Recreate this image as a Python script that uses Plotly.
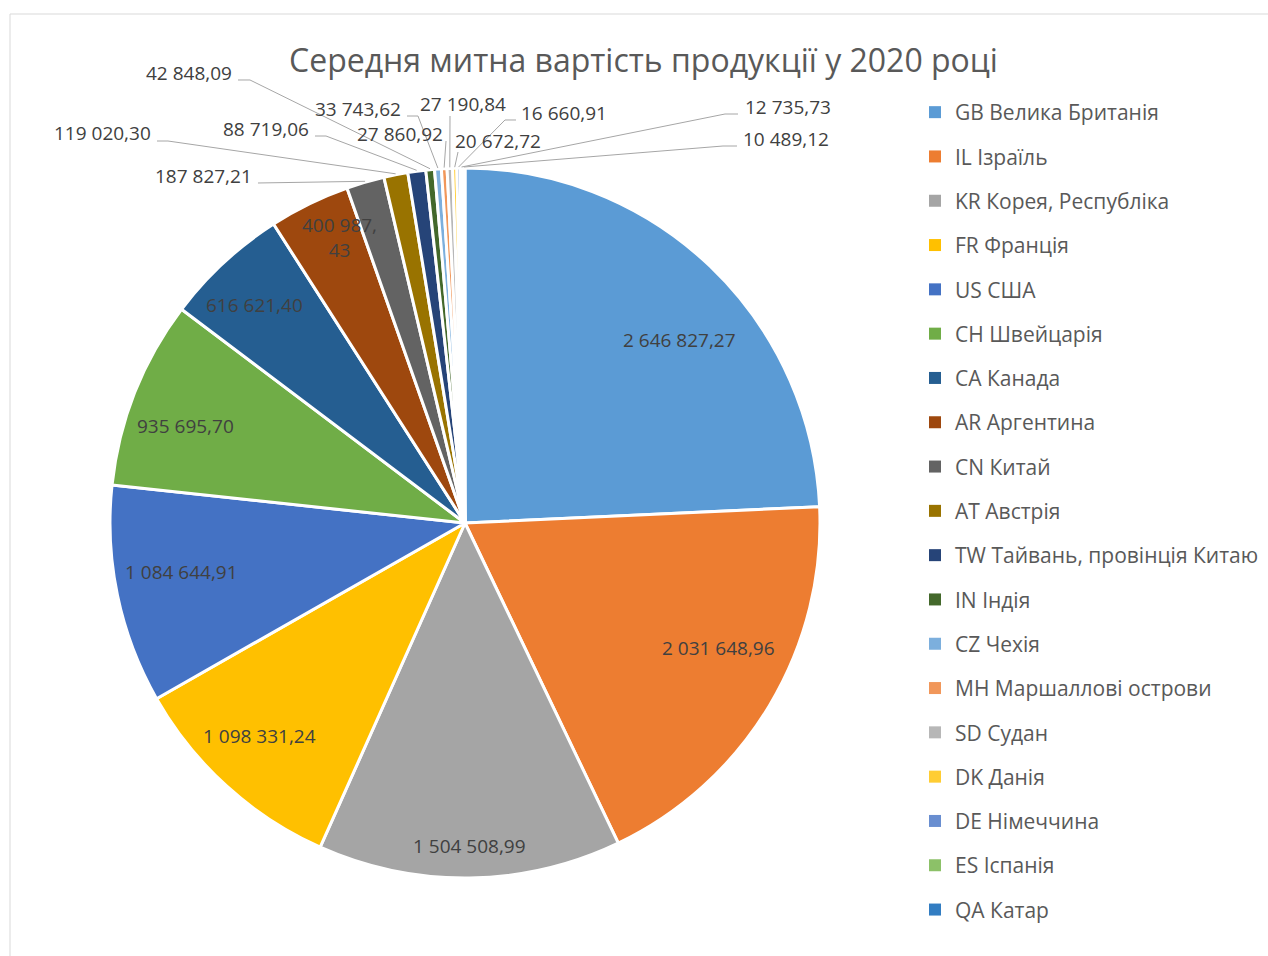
import numpy as np
import plotly.graph_objects as go

# ---- data -----------------------------------------------------------------
countries = [
    "GB Велика Британія", "IL Ізраїль", "KR Корея, Республіка", "FR Франція",
    "US США", "CH Швейцарія", "CA Канада", "AR Аргентина", "CN Китай",
    "AT Австрія", "TW Тайвань, провінція Китаю", "IN Індія", "CZ Чехія",
    "MH Маршаллові острови", "SD Судан", "DK Данія", "DE Німеччина",
    "ES Іспанія", "QA Катар",
]
values = [
    2646827.27, 2031648.96, 1504508.99, 1098331.24, 1084644.91, 935695.70,
    616621.40, 400987.43, 187827.21, 119020.30, 88719.06, 42848.09,
    33743.62, 27860.92, 27190.84, 20672.72, 16660.91, 12735.73, 10489.12,
]
colors = [
    "#5B9BD5", "#ED7D31", "#A5A5A5", "#FFC000", "#4472C4", "#70AD47",
    "#255E91", "#9E480E", "#636363", "#997300", "#264478", "#43682B",
    "#7CAFDD", "#F1975A", "#B7B7B7", "#FFCD33", "#698ED0", "#8CC168",
    "#327DC2",
]
title_text = "Середня митна вартість продукції у 2020 році"

# ---- page geometry (pixels) ----------------------------------------------
W, H = 1268, 956
CX, CY, R = 465, 523, 355
FONT = "Open Sans"
TEXT_GREY = "#595959"
LABEL_GREY = "#404040"
LEADER = "#A6A6A6"
LABEL_SIZE = 19

def px(x):
    return x / W

def py(y):
    return 1 - y / H

def fmt(v):
    whole, frac = f"{v:.2f}".split(".")
    groups = []
    while len(whole) > 3:
        groups.insert(0, whole[-3:])
        whole = whole[:-3]
    groups.insert(0, whole)
    return " ".join(groups) + "," + frac

vals = np.array(values)
cum = np.cumsum(vals) / vals.sum()
mid = (cum - vals / vals.sum() / 2) * 2 * np.pi   # clockwise from 12 o'clock

def polar(i, r, shift_deg=0.0):
    a = mid[i] + np.radians(shift_deg)
    return CX + r * np.sin(a), CY - r * np.cos(a)

fig = go.Figure()
fig.add_trace(go.Pie(
    labels=countries, values=values, sort=False, direction="clockwise",
    rotation=0, textinfo="none", hoverinfo="label+value",
    marker=dict(colors=colors, line=dict(color="white", width=3)),
    domain=dict(x=[px(CX - R), px(CX + R)], y=[py(CY + R), py(CY - R)]),
    showlegend=False,
))

# legend entries
for name, col in zip(countries, colors):
    fig.add_trace(go.Scatter(
        x=[None], y=[None], mode="markers", name=name, legendgroup=name,
        marker=dict(symbol="square", size=9, color=col),
    ))

annotations = []
shapes = []

# labels drawn inside the large slices: radius (px) and angular nudge (deg)
inside_radius = [282, 283, 323, 296, 288, 296, 303, 312]
inside_shift = [5.8, -4.7, 0.0, 1.8, 2.0, -2.5, -1.1, 2.2]
wrap_after_comma = {7}
for i, (r, s) in enumerate(zip(inside_radius, inside_shift)):
    x, y = polar(i, r, s)
    t = fmt(values[i])
    if i in wrap_after_comma:
        t = t.replace(",", ",<br>")
    annotations.append(dict(
        x=px(x), y=py(y), xref="paper", yref="paper", text=t, showarrow=False,
        font=dict(family=FONT, size=LABEL_SIZE, color=LABEL_GREY),
        xanchor="center", yanchor="middle",
    ))

# labels for the thin slices, with leader lines to the slice edge
# (text x, text y, x anchor, leader start points)
outside = {
    8:  (254, 176, "right", [(258, 183)]),
    9:  (153, 133, "right", [(157, 141), (168, 141)]),
    10: (311, 129, "right", [(315, 136), (326, 136)]),
    11: (234, 73, "right", [(238, 80), (250, 80)]),
    12: (403, 109, "right", [(407, 116), (418, 116)]),
    13: (400, 134, "center", [(446, 141)]),
    14: (463, 104, "center", [(450, 116)]),
    15: (498, 141, "center", [(458, 152)]),
    16: (519, 113, "left", [(516, 120), (505, 120)]),
    17: (743, 107, "left", [(738, 114), (725, 114)]),
    18: (741, 139, "left", [(737, 146), (723, 146)]),
}
for i, (tx, ty, anchor, pts) in outside.items():
    annotations.append(dict(
        x=px(tx), y=py(ty), xref="paper", yref="paper", text=fmt(values[i]),
        showarrow=False, font=dict(family=FONT, size=LABEL_SIZE, color=LABEL_GREY),
        xanchor=anchor, yanchor="middle",
    ))
    tip = polar(i, R + 1)
    path_pts = pts + [tip]
    path = "M " + " L ".join(f"{px(a):.5f},{py(b):.5f}" for a, b in path_pts)
    shapes.append(dict(type="path", path=path, xref="paper", yref="paper",
                       line=dict(color=LEADER, width=1)))

# chart frame
shapes.append(dict(type="rect", xref="paper", yref="paper",
                   x0=px(10), y0=-0.05, x1=1.05, y1=py(14),
                   line=dict(color="#D9D9D9", width=1), layer="below"))

annotations.append(dict(
    x=px(644), y=py(59), xref="paper", yref="paper", text=title_text,
    showarrow=False, font=dict(family=FONT, size=32, color=TEXT_GREY),
    xanchor="center", yanchor="middle",
))

fig.update_layout(
    width=W, height=H, margin=dict(l=0, r=0, t=0, b=0),
    paper_bgcolor="white", plot_bgcolor="white",
    xaxis=dict(visible=False), yaxis=dict(visible=False),
    annotations=annotations, shapes=shapes,
    legend=dict(
        x=px(915), y=py(92), xanchor="left", yanchor="top",
        font=dict(family=FONT, size=21, color=TEXT_GREY),
        tracegroupgap=14, itemsizing="constant", bgcolor="rgba(0,0,0,0)",
    ),
)

fig.write_html("out.html")
